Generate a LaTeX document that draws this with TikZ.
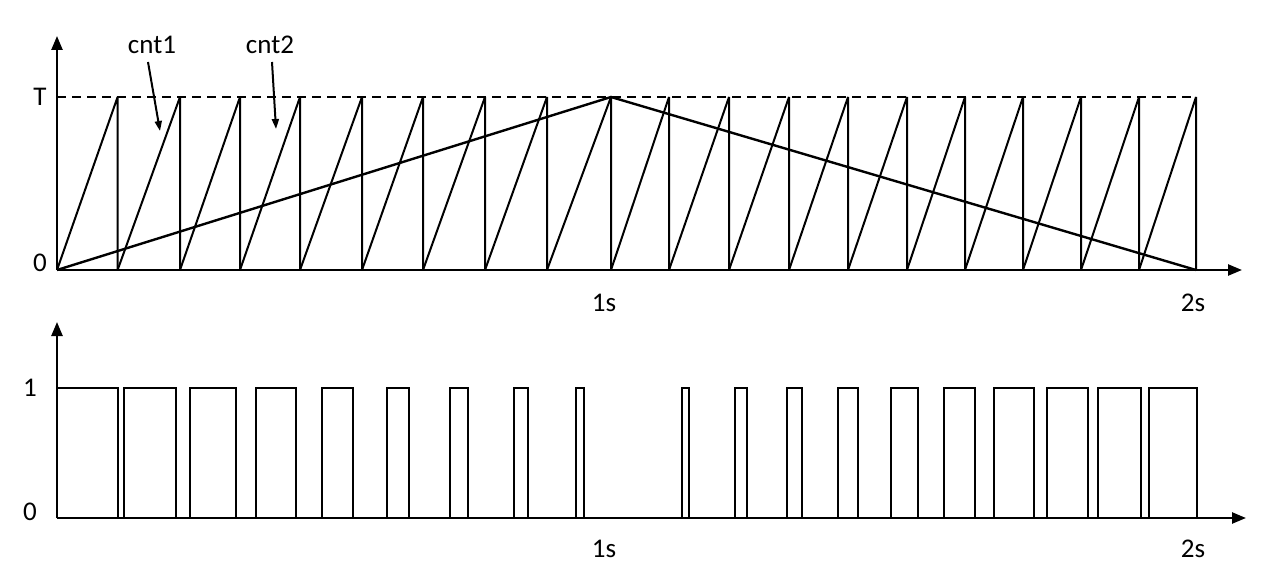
\documentclass[tikz,border=0pt]{standalone}
\usepackage{fontspec}
\setmainfont{Carlito}
\usetikzlibrary{arrows.meta}
\begin{document}
\begin{tikzpicture}[x=1pt,y=-1pt,line width=2.4pt,
  ax/.style={-{Triangle[length=14pt,width=11pt]}},
  lbl/.style={font=\fontsize{27}{30}\selectfont,inner sep=0pt},
  thin/.style={line width=2pt}]
\useasboundingbox (0,0) rectangle (1265,588);
% top axes
\coordinate (o1) at (57,270);
\coordinate (y1) at (57,36);
\coordinate (x1) at (1242,270);
\draw[ax] (o1) -- (y1);
\draw[ax] (o1) -- (x1);
\draw[line width=2pt,dash pattern=on 9pt off 6pt] (57,97) -- (1196,97);
% sawtooth
\def\prev{57}
\foreach \b in {117.6,180,240,300,362,423,485,547,611,669,729,789,848,907,965,1023,1081,1139,1196}{
  \draw[thin,line join=bevel] (\prev,270) -- (\b,97) -- (\b,270);
  \xdef\prev{\b}
}
% triangle
\draw (57,270) -- (611,97) -- (1196,270);
\node[lbl] (T) at (40,97) {T};
\node[lbl] (z1) at (40,263) {0};
\node[lbl] (s1) at (604,303) {1s};
\node[lbl] (s2) at (1193,303) {2s};
\node[lbl] (c1) at (152,45) {cnt1};
\node[lbl] (c2) at (270,45) {cnt2};
\coordinate (a1) at (160,131);
\coordinate (a2) at (276,129);
\draw[thin,-{Triangle[length=10pt,width=7pt]}] (148,62) -- (a1);
\draw[thin,-{Triangle[length=10pt,width=7pt]}] (272,62) -- (a2);
% bottom axes
\coordinate (o2) at (57,518);
\coordinate (y2) at (57,322);
\coordinate (x2) at (1246,518);
\draw[ax] (o2) -- (y2);
\draw[ax] (o2) -- (x2);
\node[lbl] (one) at (30,388) {1};
\node[lbl] (z2) at (30,512) {0};
\node[lbl] (s3) at (604,549) {1s};
\node[lbl] (s4) at (1193,549) {2s};
% pulses
\foreach \a/\b in {57/117.6,123.7/176,190/236,256/296,322/353,387/409,450/468,514/528,576/584,682/689,735/747,787/802,838/858,891/918,944/975,994/1034,1047/1088,1098/1141,1149/1197}{
  \draw[thin,line join=miter] (\a,518) -- (\a,388) -- (\b,388) -- (\b,518);
}
\end{tikzpicture}
\end{document}
